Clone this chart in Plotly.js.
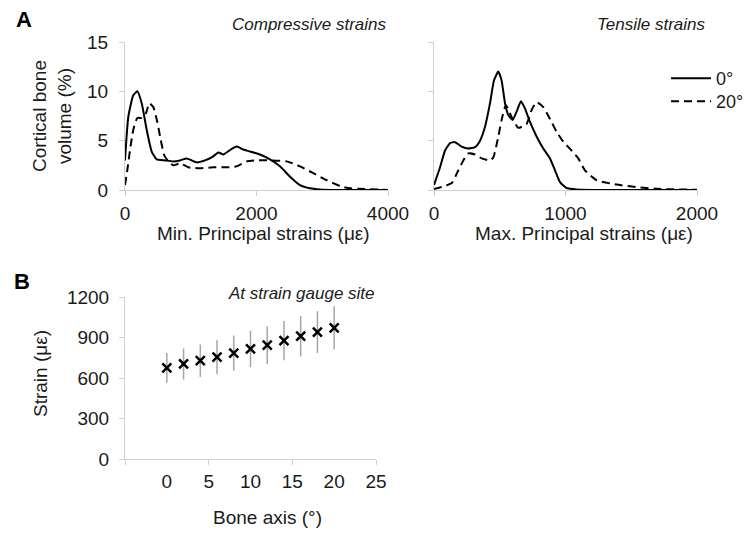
<!DOCTYPE html>
<html><head><meta charset="utf-8">
<script src="https://cdn.plot.ly/plotly-3.0.1.min.js"></script>
<style>body{margin:0;background:#fff}#g{width:745px;height:533px}</style>
</head><body><div id="g"></div>
<script>
// Panel A, compressive (min. principal) strains
const compX0 = [0,50,126,187,254,330,406,482,608,735,837,938,1014,1090,1217,1318,1420,1496,1597,1699,1800,1901,2053,2205,2357,2510,2662,2814,2966,3200,3600,4000];
const compY0 = [3.0,7.4,9.6,10.0,8.8,6.1,3.9,3.1,3.0,2.9,3.0,3.2,3.0,2.8,3.0,3.3,3.8,3.6,4.05,4.4,4.1,3.9,3.6,3.1,2.4,1.35,0.5,0.17,0.05,0,0,0];
const compX20 = [0,35,76,126,187,254,320,370,431,491,543,598,659,735,837,963,1141,1344,1547,1699,1851,2003,2205,2459,2662,2864,3067,3270,3422,3650,4000];
const compY20 = [0.5,2.0,4.05,6.1,7.3,7.3,7.8,8.8,8.4,6.9,5.1,3.5,2.9,2.5,2.7,2.3,2.2,2.3,2.3,2.4,2.9,3.0,3.0,2.9,2.4,1.7,1.0,0.4,0.17,0.1,0];
// Panel A, tensile (max. principal) strains
const tensX0 = [0,46,84,122,160,210,261,312,350,388,426,456,489,514,540,565,598,633,661,692,730,781,831,882,920,958,1008,1085,1300,2000];
const tensY0 = [0.5,2.3,4.0,4.75,4.85,4.4,4.2,4.35,5.0,6.4,8.8,11.1,12.0,11.1,8.8,7.6,7.1,8.1,9.0,8.25,6.9,5.4,4.2,3.2,2.0,0.8,0.2,0.05,0,0];
const tensX20 = [0,58,135,185,223,261,312,363,426,451,489,514,547,590,641,704,742,781,831,882,932,983,1046,1097,1148,1236,1388,1540,1692,2000];
const tensY20 = [0.1,0.3,0.7,2.0,3.0,3.7,3.6,3.2,3.0,3.3,5.4,7.1,8.6,7.4,6.3,6.7,8.1,8.9,8.4,7.2,5.9,4.9,4.0,3.2,2.0,1.0,0.55,0.3,0.12,0.02];
// Panel B
const angles = [0,2,4,6,8,10,12,14,16,18,20];
const strain = [675,704,728,755,784,815,844,877,910,940,972];
const strainErr = [110,115,120,125,130,135,140,145,150,155,160];
const seriesNames = ['0°','20°'];

const FONT = 'Liberation Sans, Arial, sans-serif';
const TXT = '#1a1a1a';
const AX = '#d0d0d0';
const FS = 19;
const W = 745, H = 533;
const px = v => v / W, py = v => 1 - v / H;

const solid = {color:'#000', width:2, shape:'spline', smoothing:0.5};
const dashed = {color:'#000', width:2, dash:'8px,5px', shape:'spline', smoothing:0.5};

const data = [
  {x:compX0, y:compY0, xaxis:'x', yaxis:'y', mode:'lines', line:solid, showlegend:false, name:seriesNames[0]},
  {x:compX20, y:compY20, xaxis:'x', yaxis:'y', mode:'lines', line:dashed, showlegend:false, name:seriesNames[1]},
  {x:tensX0, y:tensY0, xaxis:'x2', yaxis:'y2', mode:'lines', line:solid, name:seriesNames[0], legend:'legend'},
  {x:tensX20, y:tensY20, xaxis:'x2', yaxis:'y2', mode:'lines', line:dashed, name:seriesNames[1], legend:'legend2'},
  {x:angles, y:strain, xaxis:'x3', yaxis:'y3', mode:'markers', marker:{size:1, color:'rgba(0,0,0,0)'},
   error_y:{type:'data', array:strainErr, visible:true, color:'#a6a6a6', thickness:1.5, width:0}, showlegend:false},
  {x:angles, y:strain, xaxis:'x4', yaxis:'y3', mode:'markers',
   marker:{symbol:'x-thin-open', size:9, color:'#000', line:{color:'#000', width:2.5}}, showlegend:false}
];

const baseAx = {showgrid:false, zeroline:false, showline:true, linecolor:AX, linewidth:1,
  ticks:'outside', ticklen:5, tickcolor:AX, tickwidth:1,
  tickfont:{family:FONT, size:FS, color:TXT}, fixedrange:true};

const legBase = {xanchor:'left', yanchor:'top', bgcolor:'rgba(0,0,0,0)',
  font:{family:FONT, size:18, color:TXT}, tracegroupgap:0, itemwidth:40};

const layout = {
  width:W, height:H, margin:{l:0,r:0,t:0,b:0,autoexpand:false},
  paper_bgcolor:'#fff', plot_bgcolor:'#fff',
  font:{family:FONT, size:FS, color:TXT},
  xaxis: Object.assign({}, baseAx, {domain:[px(125), px(388)], range:[0,4000], tickvals:[0,2000,4000], anchor:'y', ticklabelstandoff:1}),
  yaxis: Object.assign({}, baseAx, {domain:[py(190), py(42)], range:[0,15], tickvals:[0,5,10,15], anchor:'x', ticklabelstandoff:7}),
  xaxis2: Object.assign({}, baseAx, {domain:[px(434), px(697)], range:[0,2000], tickvals:[0,1000,2000], anchor:'y2', ticklabelstandoff:1}),
  yaxis2: Object.assign({}, baseAx, {domain:[py(190), py(42)], range:[0,15], tickvals:[0,5,10,15], showticklabels:false, anchor:'x2'}),
  xaxis3: Object.assign({}, baseAx, {domain:[px(125), px(376)], range:[-5,25], tickvals:[-5,5,15,25], showticklabels:false, anchor:'y3'}),
  xaxis4: Object.assign({}, baseAx, {range:[-5,25], tickvals:[0,5,10,15,20,25], ticks:'', showline:false, overlaying:'x3', anchor:'y3', ticklabelstandoff:9}),
  yaxis3: Object.assign({}, baseAx, {domain:[py(459), py(297)], range:[0,1200], tickvals:[0,300,600,900,1200], anchor:'x3', ticklabelstandoff:6}),
  showlegend:true,
  legend: Object.assign({}, legBase, {x:px(666), y:py(60)}),
  legend2: Object.assign({}, legBase, {x:px(666), y:py(83)}),
  annotations:[
    {text:'<b>A</b>', x:px(14), y:py(19), xref:'paper', yref:'paper', xanchor:'left', yanchor:'middle', showarrow:false, font:{size:22, color:'#000'}},
    {text:'<b>B</b>', x:px(12), y:py(281), xref:'paper', yref:'paper', xanchor:'left', yanchor:'middle', showarrow:false, font:{size:22, color:'#000'}},
    {text:'<i>Compressive strains</i>', x:px(388), y:py(24), xref:'paper', yref:'paper', xanchor:'right', yanchor:'middle', showarrow:false, font:{size:17}},
    {text:'<i>Tensile strains</i>', x:px(708), y:py(24), xref:'paper', yref:'paper', xanchor:'right', yanchor:'middle', showarrow:false, font:{size:17}},
    {text:'<i>At strain gauge site</i>', x:px(377), y:py(293), xref:'paper', yref:'paper', xanchor:'right', yanchor:'middle', showarrow:false, font:{size:17}},
    {text:'Cortical bone<br>volume (%)', x:px(52), y:py(116), xref:'paper', yref:'paper', xanchor:'center', yanchor:'middle', textangle:-90, showarrow:false, font:{size:FS}},
    {text:'Min. Principal strains (με)', x:px(263), y:py(234), xref:'paper', yref:'paper', xanchor:'center', yanchor:'middle', showarrow:false, font:{size:FS}},
    {text:'Max. Principal strains (με)', x:px(584), y:py(234), xref:'paper', yref:'paper', xanchor:'center', yanchor:'middle', showarrow:false, font:{size:FS}},
    {text:'Strain (με)', x:px(40), y:py(374), xref:'paper', yref:'paper', xanchor:'center', yanchor:'middle', textangle:-90, showarrow:false, font:{size:FS}},
    {text:'Bone axis (°)', x:px(267), y:py(517), xref:'paper', yref:'paper', xanchor:'center', yanchor:'middle', showarrow:false, font:{size:FS}}
  ]
};

Plotly.newPlot('g', data, layout, {staticPlot:true, displayModeBar:false});
</script>
</body></html>
